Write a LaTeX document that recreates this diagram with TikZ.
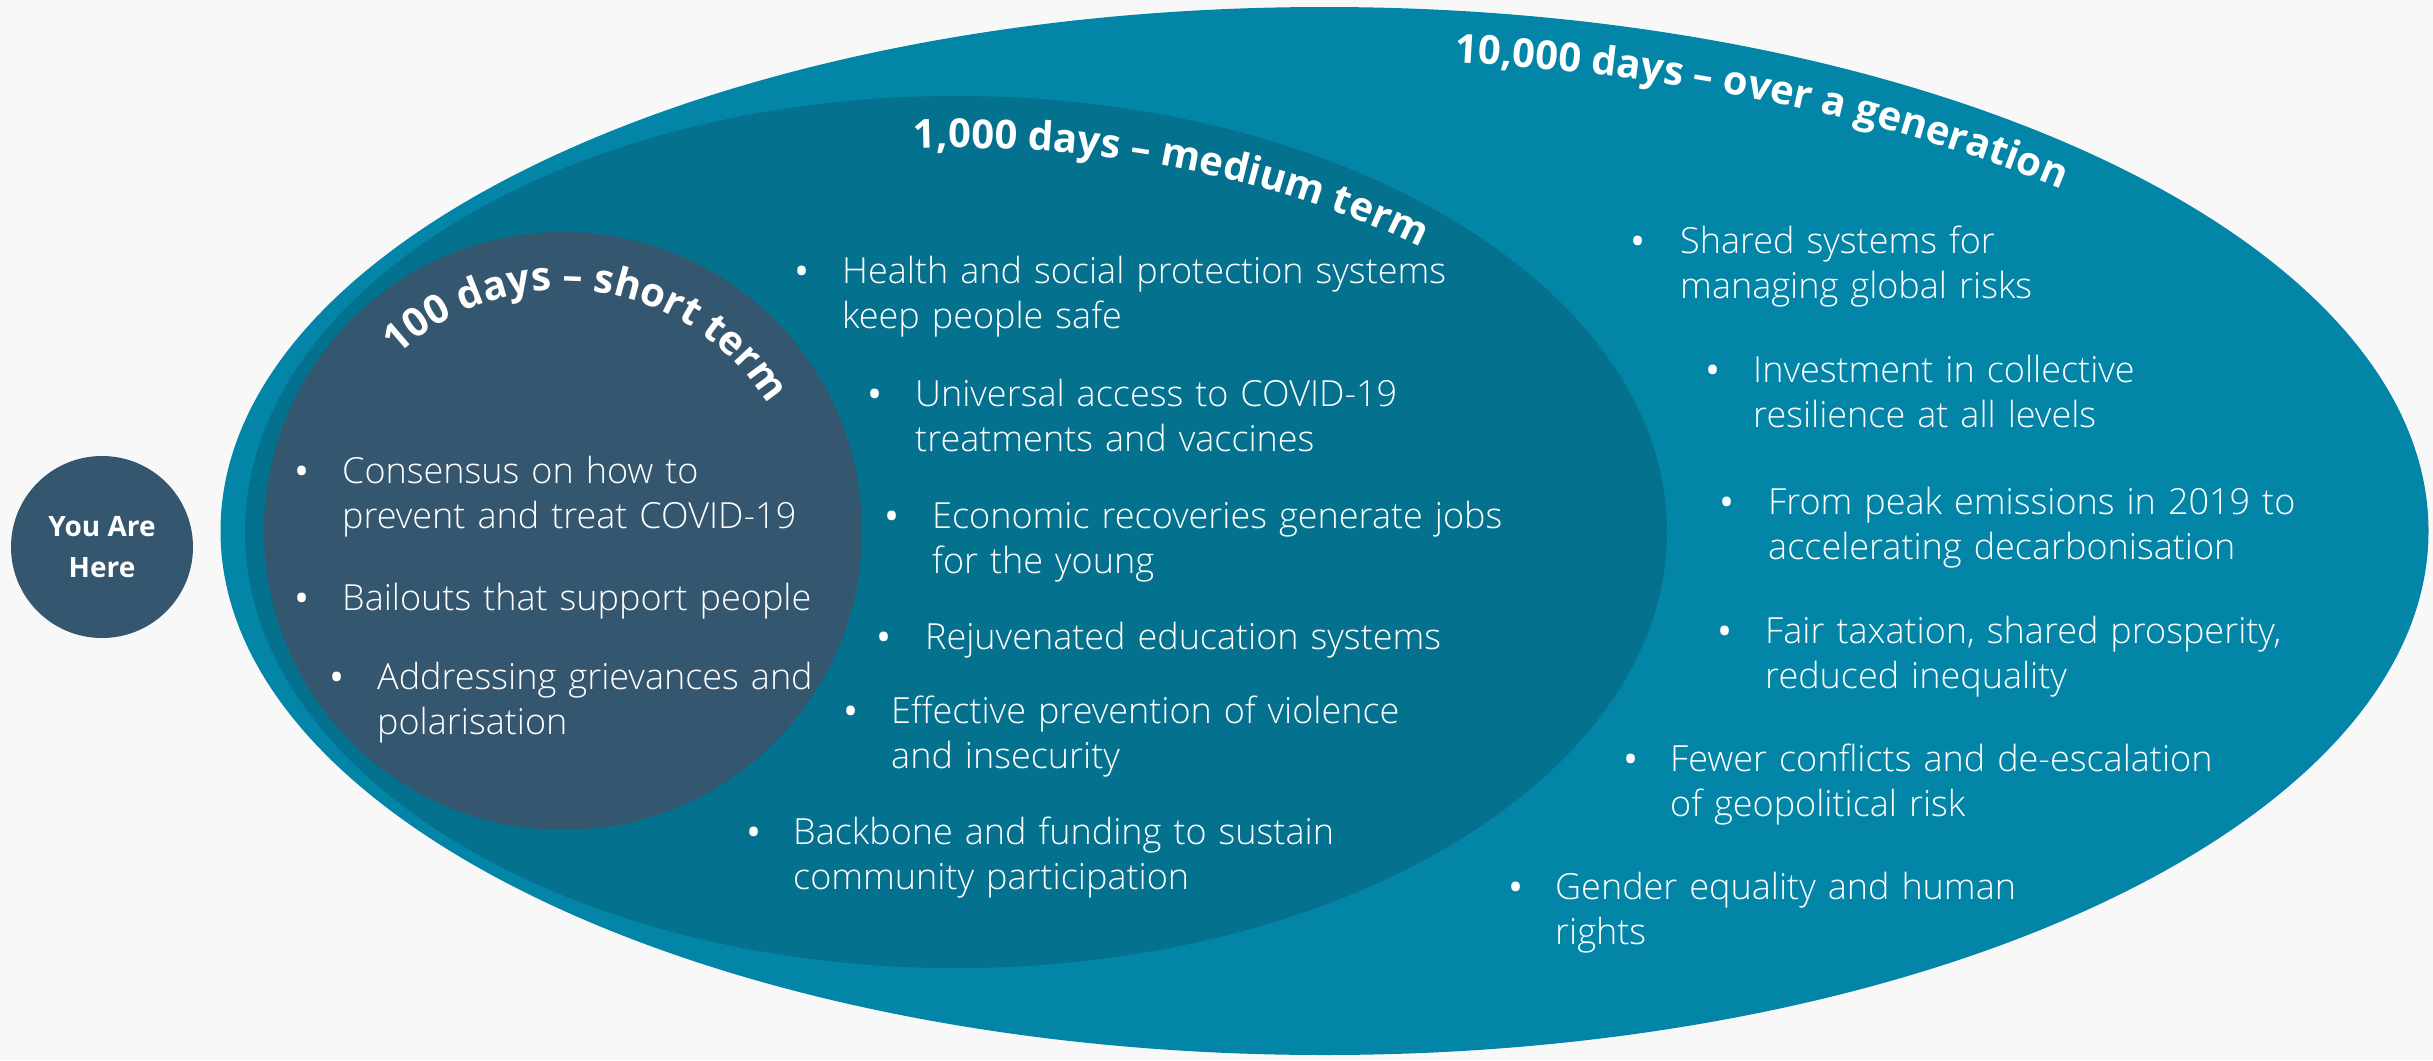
\documentclass[tikz,border=0pt]{standalone}
\usepackage{fontspec}
\setmainfont{Open Sans}
\IfFontExistsTF{Open Sans Light}{\newfontfamily\lightfont{Open Sans Light}}{\newcommand\lightfont{}}
\usetikzlibrary{decorations.text}
\definecolor{bgc}{RGB}{248,248,248}
\definecolor{outerc}{RGB}{3,133,168}
\definecolor{midc}{RGB}{4,113,142}
\definecolor{darkc}{RGB}{52,86,110}
\newcommand\ttlfont{\bfseries\fontsize{40}{40}\selectfont}
\begin{document}
\begin{tikzpicture}[x=1pt,y=1pt,
  txt/.style={text=white, font=\lightfont\fontsize{36}{45}\selectfont, anchor=base west, inner sep=0pt, text width=800pt, align=left},
  bul/.style={text=white, font=\fontsize{40}{45}\selectfont, anchor=base, inner sep=0pt, yshift=-2pt},
  you/.style={circle, fill=darkc, minimum size=182pt, inner sep=0pt, text=white, font=\bfseries\fontsize{28}{41}\selectfont, align=center}
]
\useasboundingbox (0,0) rectangle (2433,-1060);
\fill[bgc] (0,0) rectangle (2433,-1060);
% zones
\fill[outerc] (1324.5,-531) ellipse [x radius=1104pt, y radius=524pt];
\fill[midc] (956,-532) ellipse [x radius=711pt, y radius=436pt];
\fill[darkc] (563,-531) circle [radius=299pt];
% you are here
\node[you] (here) at (102,-547) {You Are\\Here};
% titles
\path[decorate, decoration={text along path, text color=white, text align=center,
   text={|\ttlfont|100 days – short term}}]
  (563,-531) ++(146:241pt) arc[start angle=146, end angle=19, radius=241pt];
\path[decorate, decoration={text along path, text color=white, text align=left,
   text={|\ttlfont|1,000 days – medium term}}]
  (956,-532) ++(93.5:690pt and 384pt) arc[start angle=93.5, end angle=15, x radius=690pt, y radius=384pt];
\path[decorate, decoration={text along path, text color=white, text align=left,
   text={|\ttlfont|10,000 days – over a generation}}]
  (1324.5,-531) ++(83:1067pt and 472pt) arc[start angle=83, end angle=10, x radius=1067pt, y radius=472pt];
% 100 days items
\node[bul] (db1) at (302,-483) {•};
\node[txt] (d1) at (342,-483) {Consensus on how to\\prevent and treat COVID-19};
\node[bul] (db2) at (302,-610) {•};
\node[txt] (d2) at (342,-610) {Bailouts that support people};
\node[bul] (db3) at (337,-689) {•};
\node[txt] (d3) at (377,-689) {Addressing grievances and\\polarisation};
% 1,000 days items
\node[bul] (mb1) at (802,-283) {•};
\node[txt] (m1) at (842,-283) {Health and social protection systems\\keep people safe};
\node[bul] (mb2) at (875,-406) {•};
\node[txt] (m2) at (915,-406) {Universal access to COVID-19\\treatments and vaccines};
\node[bul] (mb3) at (892,-528) {•};
\node[txt] (m3) at (932,-528) {Economic recoveries generate jobs\\for the young};
\node[bul] (mb4) at (884,-649) {•};
\node[txt] (m4) at (925,-649) {Rejuvenated education systems};
\node[bul] (mb5) at (851,-723) {•};
\node[txt] (m5) at (891,-723) {Effective prevention of violence\\and insecurity};
\node[bul] (mb6) at (754,-844) {•};
\node[txt] (m6) at (793,-844) {Backbone and funding to sustain\\community participation};
% 10,000 days items
\node[bul] (ob1) at (1638,-253) {•};
\node[txt] (o1) at (1680,-253) {Shared systems for\\managing global risks};
\node[bul] (ob2) at (1713,-382) {•};
\node[txt] (o2) at (1753,-382) {Investment in collective\\resilience at all levels};
\node[bul] (ob3) at (1727,-514) {•};
\node[txt] (o3) at (1768,-514) {From peak emissions in 2019 to\\accelerating decarbonisation};
\node[bul] (ob4) at (1725,-643) {•};
\node[txt] (o4) at (1765,-643) {Fair taxation, shared prosperity,\\reduced inequality};
\node[bul] (ob5) at (1631,-771) {•};
\node[txt] (o5) at (1670,-771) {Fewer conflicts and de-escalation\\of geopolitical risk};
\node[bul] (ob6) at (1516,-899) {•};
\node[txt] (o6) at (1555,-899) {Gender equality and human\\rights};
\end{tikzpicture}
\end{document}
